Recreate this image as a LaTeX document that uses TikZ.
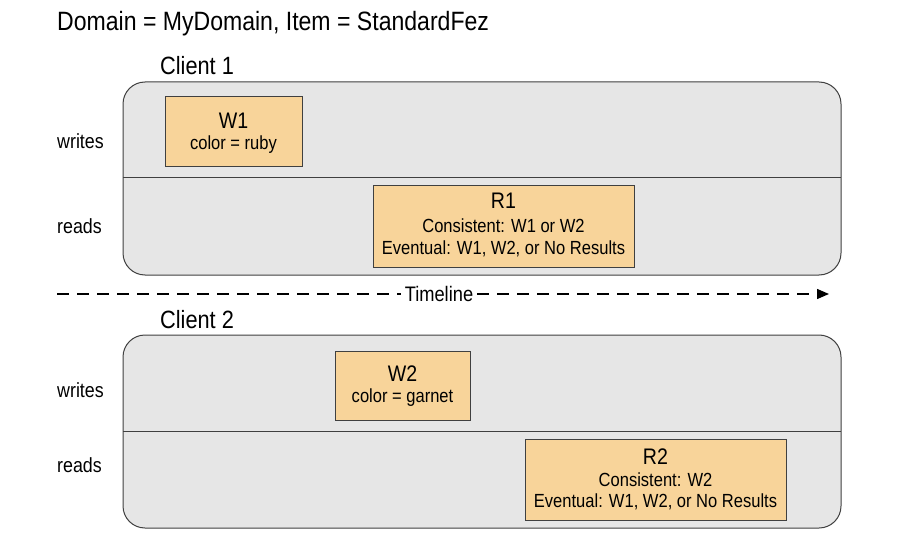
\documentclass[tikz,border=0pt]{standalone}
\usepackage{fontspec}
\setmainfont{Liberation Sans}[FakeStretch=0.87]
\usetikzlibrary{arrows.meta}
\definecolor{lanegray}{HTML}{E6E6E6}
\definecolor{boxorange}{HTML}{F8D49A}
\definecolor{edgegray}{HTML}{404040}
\tikzset{
  lane/.style={draw=edgegray, line width=1pt, fill=lanegray, rounded corners=22pt},
  evbox/.style={draw=edgegray, line width=1pt, fill=boxorange},
  divider/.style={draw=edgegray, line width=1pt},
  lbl/.style={font=\fontsize{20.5}{24}\selectfont, anchor=west, inner sep=0pt},
  ttl/.style={font=\fontsize{26.5}{30}\selectfont, anchor=base west, inner sep=0pt},
  cl/.style={font=\fontsize{25}{30}\selectfont, anchor=base west, inner sep=0pt},
  big/.style={font=\fontsize{22.5}{26}\selectfont, inner sep=0pt},
  small/.style={font=\fontsize{19}{22}\selectfont, inner sep=0pt},
  tline/.style={line width=1.3pt, dash pattern=on 12pt off 8pt},
}
\begin{document}
\begin{tikzpicture}[x=1pt,y=-1pt]
\useasboundingbox (0,0) rectangle (912,545);
% title
\node[ttl] (title) at (57,31) {Domain = MyDomain, Item = StandardFez};
% client 1
\node[cl] (c1) at (160,75) {Client 1};
\draw[lane] (123,82) rectangle (841,275);
\coordinate (d1a) at (123,178);
\coordinate (d1b) at (841,178);
\draw[divider] (d1a) -- (d1b);
\node[lbl] (w1l) at (57,141) {writes};
\node[lbl] (r1l) at (57,226) {reads};
\draw[evbox] (165,97) rectangle (302,167);
\node[big] (w1) at (233.5,121) {W1};
\node[small] (w1t) at (233.5,145) {color = ruby};
\draw[evbox] (373,186) rectangle (634,267);
\node[big] (r1) at (503.5,201) {R1};
\node[small] (r1a) at (503.5,226) {Consistent: W1 or W2};
\node[small] (r1b) at (503.5,249) {Eventual: W1, W2, or No Results};
% timeline
\node[small, font=\fontsize{21}{24}\selectfont, inner xsep=4pt] (tl) at (439,294) {Timeline};
\coordinate (ts) at (57,294);
\coordinate (te) at (829,294);
\draw[tline] (ts) -- (tl.west);
\draw[tline, -{Triangle[length=12pt,width=10pt]}] (tl.east) -- (te);
% client 2
\node[cl] (c2) at (160,328) {Client 2};
\draw[lane] (123,335) rectangle (841,528);
\coordinate (d2a) at (123,431);
\coordinate (d2b) at (841,431);
\draw[divider] (d2a) -- (d2b);
\node[lbl] (w2l) at (57,390) {writes};
\node[lbl] (r2l) at (57,465) {reads};
\draw[evbox] (335,351) rectangle (470,420);
\node[big] (w2) at (402.5,374) {W2};
\node[small] (w2t) at (402.5,398) {color = garnet};
\draw[evbox] (525,439) rectangle (786,520);
\node[big] (r2) at (655.5,457) {R2};
\node[small] (r2a) at (655.5,480) {Consistent: W2};
\node[small] (r2b) at (655.5,502) {Eventual: W1, W2, or No Results};
\end{tikzpicture}
\end{document}
